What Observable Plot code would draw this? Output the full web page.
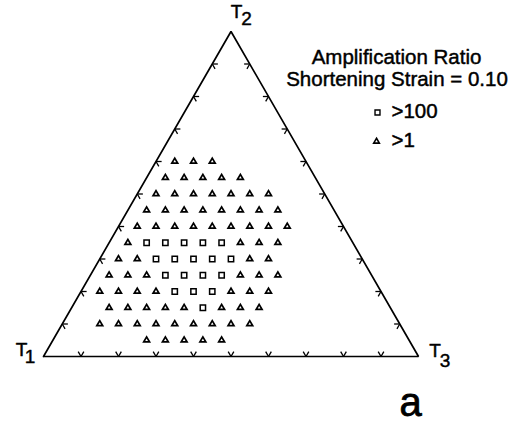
<!DOCTYPE html>
<html>
<head>
<meta charset="utf-8">
<script src="https://cdn.jsdelivr.net/npm/d3@7"></script>
<script src="https://cdn.jsdelivr.net/npm/@observablehq/plot@0.6"></script>
<style>
  html, body { margin: 0; padding: 0; background: #fff; }
  #chart svg { display: block; }
</style>
</head>
<body>
<div id="chart"></div>
<script>
// Ternary composition grid: each row shares one T2 fraction; T3 fractions listed per row.
const t2Levels = [0.60, 0.55, 0.50, 0.45, 0.40, 0.35, 0.30, 0.25, 0.20, 0.15, 0.10, 0.05];
const t3Values = [
  [0.05, 0.10, 0.15],
  [0.05, 0.10, 0.15, 0.20, 0.25],
  [0.05, 0.10, 0.15, 0.20, 0.25, 0.30, 0.35],
  [0.05, 0.10, 0.15, 0.20, 0.25, 0.30, 0.35, 0.40],
  [0.05, 0.10, 0.15, 0.20, 0.25, 0.30, 0.35, 0.40, 0.45],
  [0.05, 0.10, 0.15, 0.20, 0.25, 0.30, 0.35, 0.40, 0.45],
  [0.05, 0.10, 0.15, 0.20, 0.25, 0.30, 0.35, 0.40, 0.45],
  [0.05, 0.10, 0.15, 0.20, 0.25, 0.30, 0.35, 0.40, 0.45, 0.50],
  [0.05, 0.10, 0.15, 0.20, 0.25, 0.30, 0.35, 0.40, 0.45, 0.50],
  [0.10, 0.15, 0.20, 0.25, 0.30, 0.35, 0.40, 0.45, 0.50],
  [0.10, 0.15, 0.20, 0.25, 0.30, 0.35, 0.40, 0.45, 0.50],
  [0.25, 0.30, 0.35, 0.40, 0.45]
];
// Amplification ratio class at each grid point: 1 means >1, 100 means >100.
const ratioValues = [
  [1, 1, 1],
  [1, 1, 1, 1, 1],
  [1, 1, 1, 1, 1, 1, 1],
  [1, 1, 1, 1, 1, 1, 1, 1],
  [1, 1, 1, 1, 1, 1, 1, 1, 1],
  [1, 100, 100, 100, 100, 100, 1, 1, 1],
  [1, 1, 100, 100, 100, 100, 100, 1, 1],
  [1, 1, 1, 100, 100, 100, 100, 1, 1, 1],
  [1, 1, 1, 1, 100, 100, 100, 1, 1, 1],
  [1, 1, 1, 1, 1, 100, 1, 1, 1],
  [1, 1, 1, 1, 1, 1, 1, 1, 1],
  [1, 1, 1, 1, 1]
];

const tickFractions = [0.1, 0.2, 0.3, 0.4, 0.5, 0.6, 0.7, 0.8, 0.9];
const vertexNames = ["1", "2", "3"];
const legendTitle = ["Amplification Ratio", "Shortening Strain = 0.10"];
const legendLabels = [">100", ">1"];
const legendSymbols = ["square", "triangle"];
const panelLabel = "a";

// Ternary -> cartesian (unit edge length)
const H = Math.sqrt(3) / 2;
const tx = d => d.t3 + d.t2 / 2;
const ty = d => d.t2 * H;

const points = t2Levels.flatMap((t2, i) =>
  t3Values[i].map((t3, j) => ({t2, t3, ratio: ratioValues[i][j]})));

const corners = [{t2: 0, t3: 0}, {t2: 1, t3: 0}, {t2: 0, t3: 1}];
const outline = [...corners, corners[0]];

// Edge ticks: two short strokes along the inner grid directions at each tenth
const L = 0.015;
const ticks = tickFractions.flatMap(f => [
  {t2: 0, t3: f, dt2: L, dt3: 0}, {t2: 0, t3: f, dt2: L, dt3: -L},           // T1–T3 base
  {t2: f, t3: 0, dt2: 0, dt3: L}, {t2: f, t3: 0, dt2: -L, dt3: L},           // T1–T2 side
  {t2: f, t3: 1 - f, dt2: 0, dt3: -L}, {t2: f, t3: 1 - f, dt2: -L, dt3: 0}   // T2–T3 side
]);

const font = "'Liberation Sans', Arial, Helvetica, sans-serif";
const labelSize = 19;
const ink = {fill: "black", stroke: "black", strokeWidth: 0.45};

// "T" plus a subscript digit next to each corner
const cornerLabel = (corner, name, tdx, tdy, sdx, sdy) => [
  Plot.text([corner], {x: tx, y: ty, text: () => "T", dx: tdx, dy: tdy, ...ink,
    fontSize: labelSize, lineAnchor: "bottom", textAnchor: "middle"}),
  Plot.text([corner], {x: tx, y: ty, text: () => name, dx: sdx, dy: sdy, ...ink,
    fontSize: labelSize, lineAnchor: "bottom", textAnchor: "middle"})
];

const chart = Plot.plot({
  width: 521,
  height: 424,
  margin: 0,
  x: {domain: [0, 1], range: [43, 418], axis: null},
  y: {domain: [0, H], range: [356, 31], axis: null},
  style: {fontFamily: font, background: "white", color: "black"},
  marks: [
    Plot.line(outline, {x: tx, y: ty, stroke: "black", strokeWidth: 1.7, strokeLinejoin: "miter"}),
    Plot.link(ticks, {
      x1: tx, y1: ty,
      x2: d => (d.t3 + d.dt3) + (d.t2 + d.dt2) / 2,
      y2: d => (d.t2 + d.dt2) * H,
      stroke: "black", strokeWidth: 1.3
    }),
    Plot.dot(points.filter(d => d.ratio === 1), {x: tx, y: ty, symbol: "triangle", r: 2.2,
      fill: "none", stroke: "black", strokeWidth: 1.7}),
    Plot.dot(points.filter(d => d.ratio === 100), {x: tx, y: ty, symbol: "square", r: 3,
      fill: "none", stroke: "black", strokeWidth: 1.5}),
    ...cornerLabel(corners[0], vertexNames[0], -22, -1, -13.5, 6),
    ...cornerLabel(corners[1], vertexNames[1], 5.5, -14, 15.5, -7),
    ...cornerLabel(corners[2], vertexNames[2], 16.5, 0, 26.5, 10),
    // legend
    Plot.text([legendTitle[0]], {text: d => d, frameAnchor: "top-left", dx: 396, dy: 63, ...ink,
      fontSize: 20.5, textAnchor: "middle", lineAnchor: "bottom"}),
    Plot.text([legendTitle[1]], {text: d => d, frameAnchor: "top-left", dx: 396.5, dy: 85, ...ink,
      fontSize: 20.5, textAnchor: "middle", lineAnchor: "bottom"}),
    Plot.text([legendLabels[0]], {text: d => d, frameAnchor: "top-left", dx: 391, dy: 117, ...ink,
      fontSize: 20.5, textAnchor: "start", lineAnchor: "bottom"}),
    Plot.text([legendLabels[1]], {text: d => d, frameAnchor: "top-left", dx: 391, dy: 146, ...ink,
      fontSize: 20.5, textAnchor: "start", lineAnchor: "bottom"}),
    Plot.dot([legendSymbols[0]], {symbol: d => d, frameAnchor: "top-left", dx: 377, dy: 112,
      r: 2.8, fill: "none", stroke: "black", strokeWidth: 1.4}),
    Plot.dot([legendSymbols[1]], {symbol: d => d, frameAnchor: "top-left", dx: 376, dy: 141,
      r: 2.1, fill: "none", stroke: "black", strokeWidth: 1.6}),
    // panel letter
    Plot.text([panelLabel], {text: d => d, frameAnchor: "top-left", dx: 410, dy: 415, ...ink,
      strokeWidth: 0.8, fontSize: 40, textAnchor: "middle", lineAnchor: "bottom"})
  ]
});

document.getElementById("chart").appendChild(chart);
</script>
</body>
</html>
